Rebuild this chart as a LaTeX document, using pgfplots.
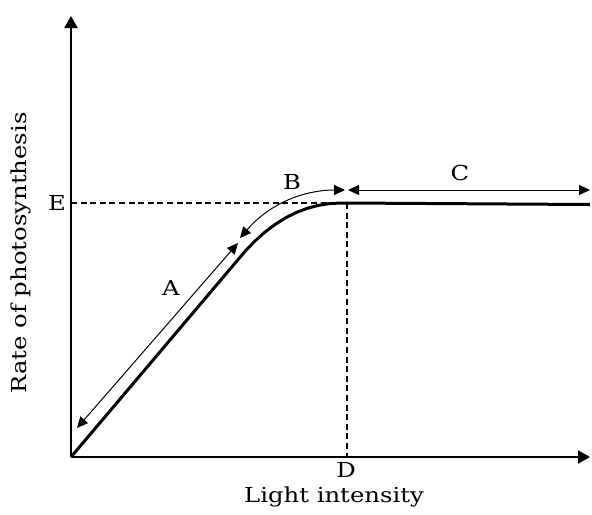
\documentclass[border=0pt]{standalone}
\usepackage{fontspec}
\setmainfont{DejaVu Serif}[FakeStretch=1.18]
\usepackage{pgfplots}
\pgfplotsset{compat=1.18}
\usetikzlibrary{arrows.meta}

% curve (x, y in pixel-like units from the origin)
\pgfplotstableread{
x y
0 0
165 195
174.5 206.2
184.2 216.2
194.2 225.1
204.4 232.8
214.8 239.3
225.4 244.6
236.2 248.7
247.2 251.6
258.5 253.4
270 254
276 254
519 252.5
}\curve

\begin{document}
\fontsize{10.3}{12}\selectfont
\begin{tikzpicture}[
  thinarrow/.style={line width=0.5pt, {Triangle[length=5.5pt,width=5pt]}-{Triangle[length=5.5pt,width=5pt]}},
  lbl/.style={font=\fontsize{10.3}{12}\selectfont}
]
\begin{axis}[
  scale only axis,
  width=259.5pt, height=220.5pt,
  xmin=0, xmax=519, ymin=0, ymax=441,
  axis lines=left,
  axis line style={line width=1.1pt, -{Triangle[length=6pt,width=6.5pt]}},
  ticks=none,
  clip=false,
]
\addplot[black, line width=1.5pt, line join=round] table[x=x, y=y] {\curve};
\addplot[black, line width=0.7pt, dash pattern=on 3pt off 1.8pt] coordinates {(0,254) (276,254)};
\addplot[black, line width=0.7pt, dash pattern=on 3pt off 1.8pt] coordinates {(276,254) (276,0)};

\draw[thinarrow] (axis cs:6,29) -- (axis cs:167,214);
\draw[thinarrow] (axis cs:169,219) .. controls (axis cs:200,255) and (axis cs:235,267) .. (axis cs:274,267);
\draw[thinarrow] (axis cs:277,267) -- (axis cs:519,267);

\node[lbl] at (axis cs:100,169) {A};
\node[lbl] at (axis cs:221,275) {B};
\node[lbl] at (axis cs:389,284) {C};
\node[lbl] at (axis cs:-14,254) {E};
\node[lbl] at (axis cs:275,-13) {D};
\node[lbl] at (axis cs:263,-40) {Light intensity};
\node[lbl, rotate=90] at (axis cs:-50,204) {Rate of photosynthesis};

\path (axis cs:-71,457) rectangle (axis cs:521,-57);
\end{axis}
\end{tikzpicture}
\end{document}
